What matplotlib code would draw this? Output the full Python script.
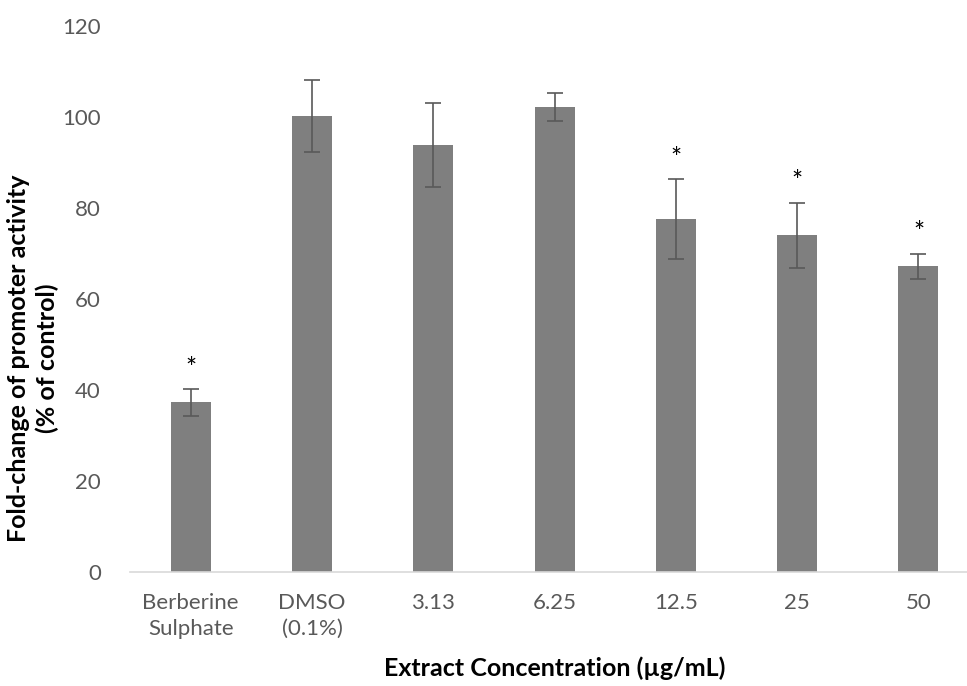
import matplotlib
matplotlib.use("Agg")
import matplotlib.pyplot as plt
import numpy as np

categories = ["Berberine\nSulphate", "DMSO\n(0.1%)", "3.13", "6.25", "12.5", "25", "50"]
values = [37.3, 100.2, 93.8, 102.2, 77.5, 74.0, 67.2]
errors = [3.0, 8.0, 9.2, 3.1, 8.8, 7.2, 2.8]
significant = [True, False, False, False, True, True, True]
yticks = [0, 20, 40, 60, 80, 100, 120]

plt.rcParams['font.family'] = ['Lato', 'DejaVu Sans']

W, H = 967, 686
fig = plt.figure(figsize=(W / 100, H / 100), dpi=100)
ax_left, ax_right = 130 / W, 967 / W
ax_bottom, ax_top = 1 - 572 / H, 1 - 26 / H
ax = fig.add_axes([ax_left, ax_bottom, ax_right - ax_left, ax_top - ax_bottom])

x = np.arange(len(categories))
ax.bar(x, values, width=0.33, color="#7f7f7f", zorder=2)
ax.errorbar(x, values, yerr=errors, fmt="none", ecolor="#595959",
            elinewidth=1.2, capsize=6, capthick=1.2, zorder=3)

for xi, v, e, s in zip(x, values, errors, significant):
    if s:
        ax.text(xi, v + e + 4.3, "*", ha="center", va="center",
                fontsize=19, color="black")

ax.set_xlim(-0.5, 6.4)
ax.set_ylim(0, 120)
ax.set_yticks(yticks)
ax.set_xticks(x)
ax.set_xticklabels(categories, fontsize=16, color="#595959", linespacing=1.4)
ax.set_yticklabels([str(t) for t in yticks], fontsize=16, color="#595959")
ax.tick_params(axis="both", length=0)
ax.tick_params(axis="y", pad=21)
ax.tick_params(axis="x", pad=15)
for side in ["top", "right", "left"]:
    ax.spines[side].set_visible(False)
ax.spines["bottom"].set_color("#d9d9d9")
ax.spines["bottom"].set_linewidth(1.2)

fig.text(555 / W, 1 - 668 / H, "Extract Concentration (\u00b5g/mL)",
         ha="center", va="center", fontsize=18, fontweight="bold", color="black")
fig.text(33 / W, 1 - 358 / H, "Fold-change of promoter activity\n(% of control)",
         ha="center", va="center", rotation=90, fontsize=18, fontweight="bold",
         color="black", linespacing=1.25)

fig.savefig("out.png", dpi=100)
